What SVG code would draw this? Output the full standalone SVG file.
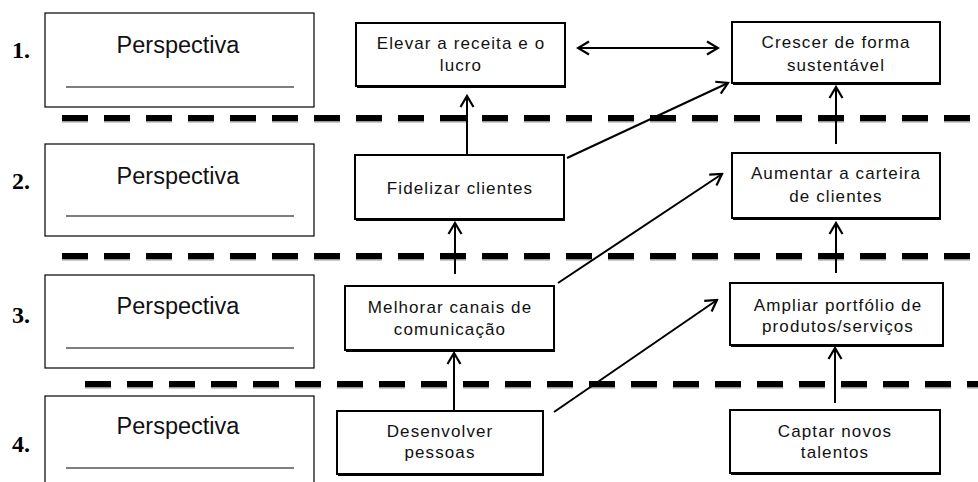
<svg xmlns="http://www.w3.org/2000/svg" width="978" height="482" viewBox="0 0 978 482">
<style>
.lbox{fill:#fff;stroke:#000;stroke-width:1.2}
.ul{stroke:#000;stroke-width:1.2}
.persp{font-family:"Liberation Sans",Arial,sans-serif;font-size:23.5px;fill:#111;text-anchor:middle}
.num{font-family:"Liberation Serif","Times New Roman",serif;font-size:24px;font-weight:bold;fill:#000}
.shadow{fill:#000}
.box{fill:#fff;stroke:#000;stroke-width:2}
.t{font-family:"Liberation Sans",Arial,sans-serif;font-size:17px;letter-spacing:1.1px;fill:#111;text-anchor:middle}
.dash{stroke:#000;stroke-width:6;stroke-dasharray:26 16}
.dashsh{stroke:#999;stroke-width:2;stroke-dasharray:26 16}
.conn{stroke:#000;stroke-width:2;fill:none}
</style>
<defs>
<marker id="ah" viewBox="-14 -9 16 18" markerWidth="16" markerHeight="18" refX="0" refY="0" orient="auto-start-reverse" markerUnits="userSpaceOnUse">
<path d="M-11,-6.5 L0,0 L-11,6.5" fill="none" stroke="#000" stroke-width="2.2" stroke-linejoin="miter"/>
</marker>
</defs>

<g id="separators">
<line class="dashsh" x1="62" y1="121.5" x2="978" y2="121.5"/>
<line class="dash" x1="62" y1="118" x2="978" y2="118"/>
<line class="dashsh" x1="62" y1="259.5" x2="978" y2="259.5"/>
<line class="dash" x1="62" y1="256" x2="978" y2="256"/>
<line class="dashsh" x1="85" y1="387.5" x2="978" y2="387.5"/>
<line class="dash" x1="85" y1="384" x2="978" y2="384"/>
</g>

<g id="persp1">
<text class="num" x="12" y="58">1.</text>
<rect class="lbox" x="45" y="13" width="269" height="94"/>
<text class="persp" x="178" y="53">Perspectiva</text>
<line class="ul" x1="66" y1="87" x2="294" y2="87"/>
</g>
<g id="persp2">
<text class="num" x="12" y="189">2.</text>
<rect class="lbox" x="45" y="144" width="269" height="92"/>
<text class="persp" x="178" y="184">Perspectiva</text>
<line class="ul" x1="66" y1="216" x2="294" y2="216"/>
</g>
<g id="persp3">
<text class="num" x="12" y="323">3.</text>
<rect class="lbox" x="45" y="275" width="269" height="93"/>
<text class="persp" x="178" y="314">Perspectiva</text>
<line class="ul" x1="66" y1="348" x2="294" y2="348"/>
</g>
<g id="persp4">
<text class="num" x="12" y="452">4.</text>
<rect class="lbox" x="45" y="396" width="269" height="100"/>
<text class="persp" x="178" y="434">Perspectiva</text>
<line class="ul" x1="66" y1="468" x2="294" y2="468"/>
</g>

<g id="elevar">
<rect class="shadow" x="357" y="25" width="209" height="63"/>
<rect class="box" x="356" y="23" width="209" height="63"/>
<text class="t" x="461" y="49">Elevar a receita e o</text>
<text class="t" x="461" y="71">lucro</text>
</g>
<g id="crescer">
<rect class="shadow" x="733" y="24" width="208" height="61"/>
<rect class="box" x="732" y="22" width="208" height="61"/>
<text class="t" x="836" y="48">Crescer de forma</text>
<text class="t" x="836" y="71">sustentável</text>
</g>
<g id="fidelizar">
<rect class="shadow" x="356" y="157" width="209" height="64"/>
<rect class="box" x="355" y="155" width="209" height="64"/>
<text class="t" x="460" y="194">Fidelizar clientes</text>
</g>
<g id="aumentar">
<rect class="shadow" x="733" y="155" width="208" height="65"/>
<rect class="box" x="732" y="153" width="208" height="65"/>
<text class="t" x="836" y="179">Aumentar a carteira</text>
<text class="t" x="836" y="202">de clientes</text>
</g>
<g id="melhorar">
<rect class="shadow" x="346" y="288" width="209" height="64"/>
<rect class="box" x="345" y="286" width="209" height="64"/>
<text class="t" x="450" y="313">Melhorar canais de</text>
<text class="t" x="450" y="335">comunicação</text>
</g>
<g id="ampliar">
<rect class="shadow" x="731" y="285" width="213" height="62"/>
<rect class="box" x="730" y="283" width="213" height="62"/>
<text class="t" x="838" y="311">Ampliar portfólio de</text>
<text class="t" x="838" y="332">produtos/serviços</text>
</g>
<g id="desenvolver">
<rect class="shadow" x="338" y="413" width="206" height="63"/>
<rect class="box" x="337" y="411" width="206" height="63"/>
<text class="t" x="440" y="437">Desenvolver</text>
<text class="t" x="440" y="458">pessoas</text>
</g>
<g id="captar">
<rect class="shadow" x="731" y="412" width="210" height="63"/>
<rect class="box" x="730" y="410" width="210" height="63"/>
<text class="t" x="835" y="437">Captar novos</text>
<text class="t" x="835" y="458">talentos</text>
</g>

<g id="connectors">
<line class="conn" x1="578" y1="48" x2="718" y2="48" marker-start="url(#ah)" marker-end="url(#ah)"/>
<line class="conn" x1="467" y1="155" x2="467" y2="96" marker-end="url(#ah)"/>
<line class="conn" x1="567" y1="158" x2="728" y2="83" marker-end="url(#ah)"/>
<line class="conn" x1="455" y1="274" x2="455" y2="223" marker-end="url(#ah)"/>
<line class="conn" x1="558" y1="283" x2="722" y2="174" marker-end="url(#ah)"/>
<line class="conn" x1="836" y1="144" x2="836" y2="87" marker-end="url(#ah)"/>
<line class="conn" x1="454" y1="411" x2="454" y2="353" marker-end="url(#ah)"/>
<line class="conn" x1="554" y1="412" x2="717" y2="300" marker-end="url(#ah)"/>
<line class="conn" x1="836" y1="273" x2="836" y2="223" marker-end="url(#ah)"/>
<line class="conn" x1="835" y1="403" x2="835" y2="348" marker-end="url(#ah)"/>
</g>
</svg>
